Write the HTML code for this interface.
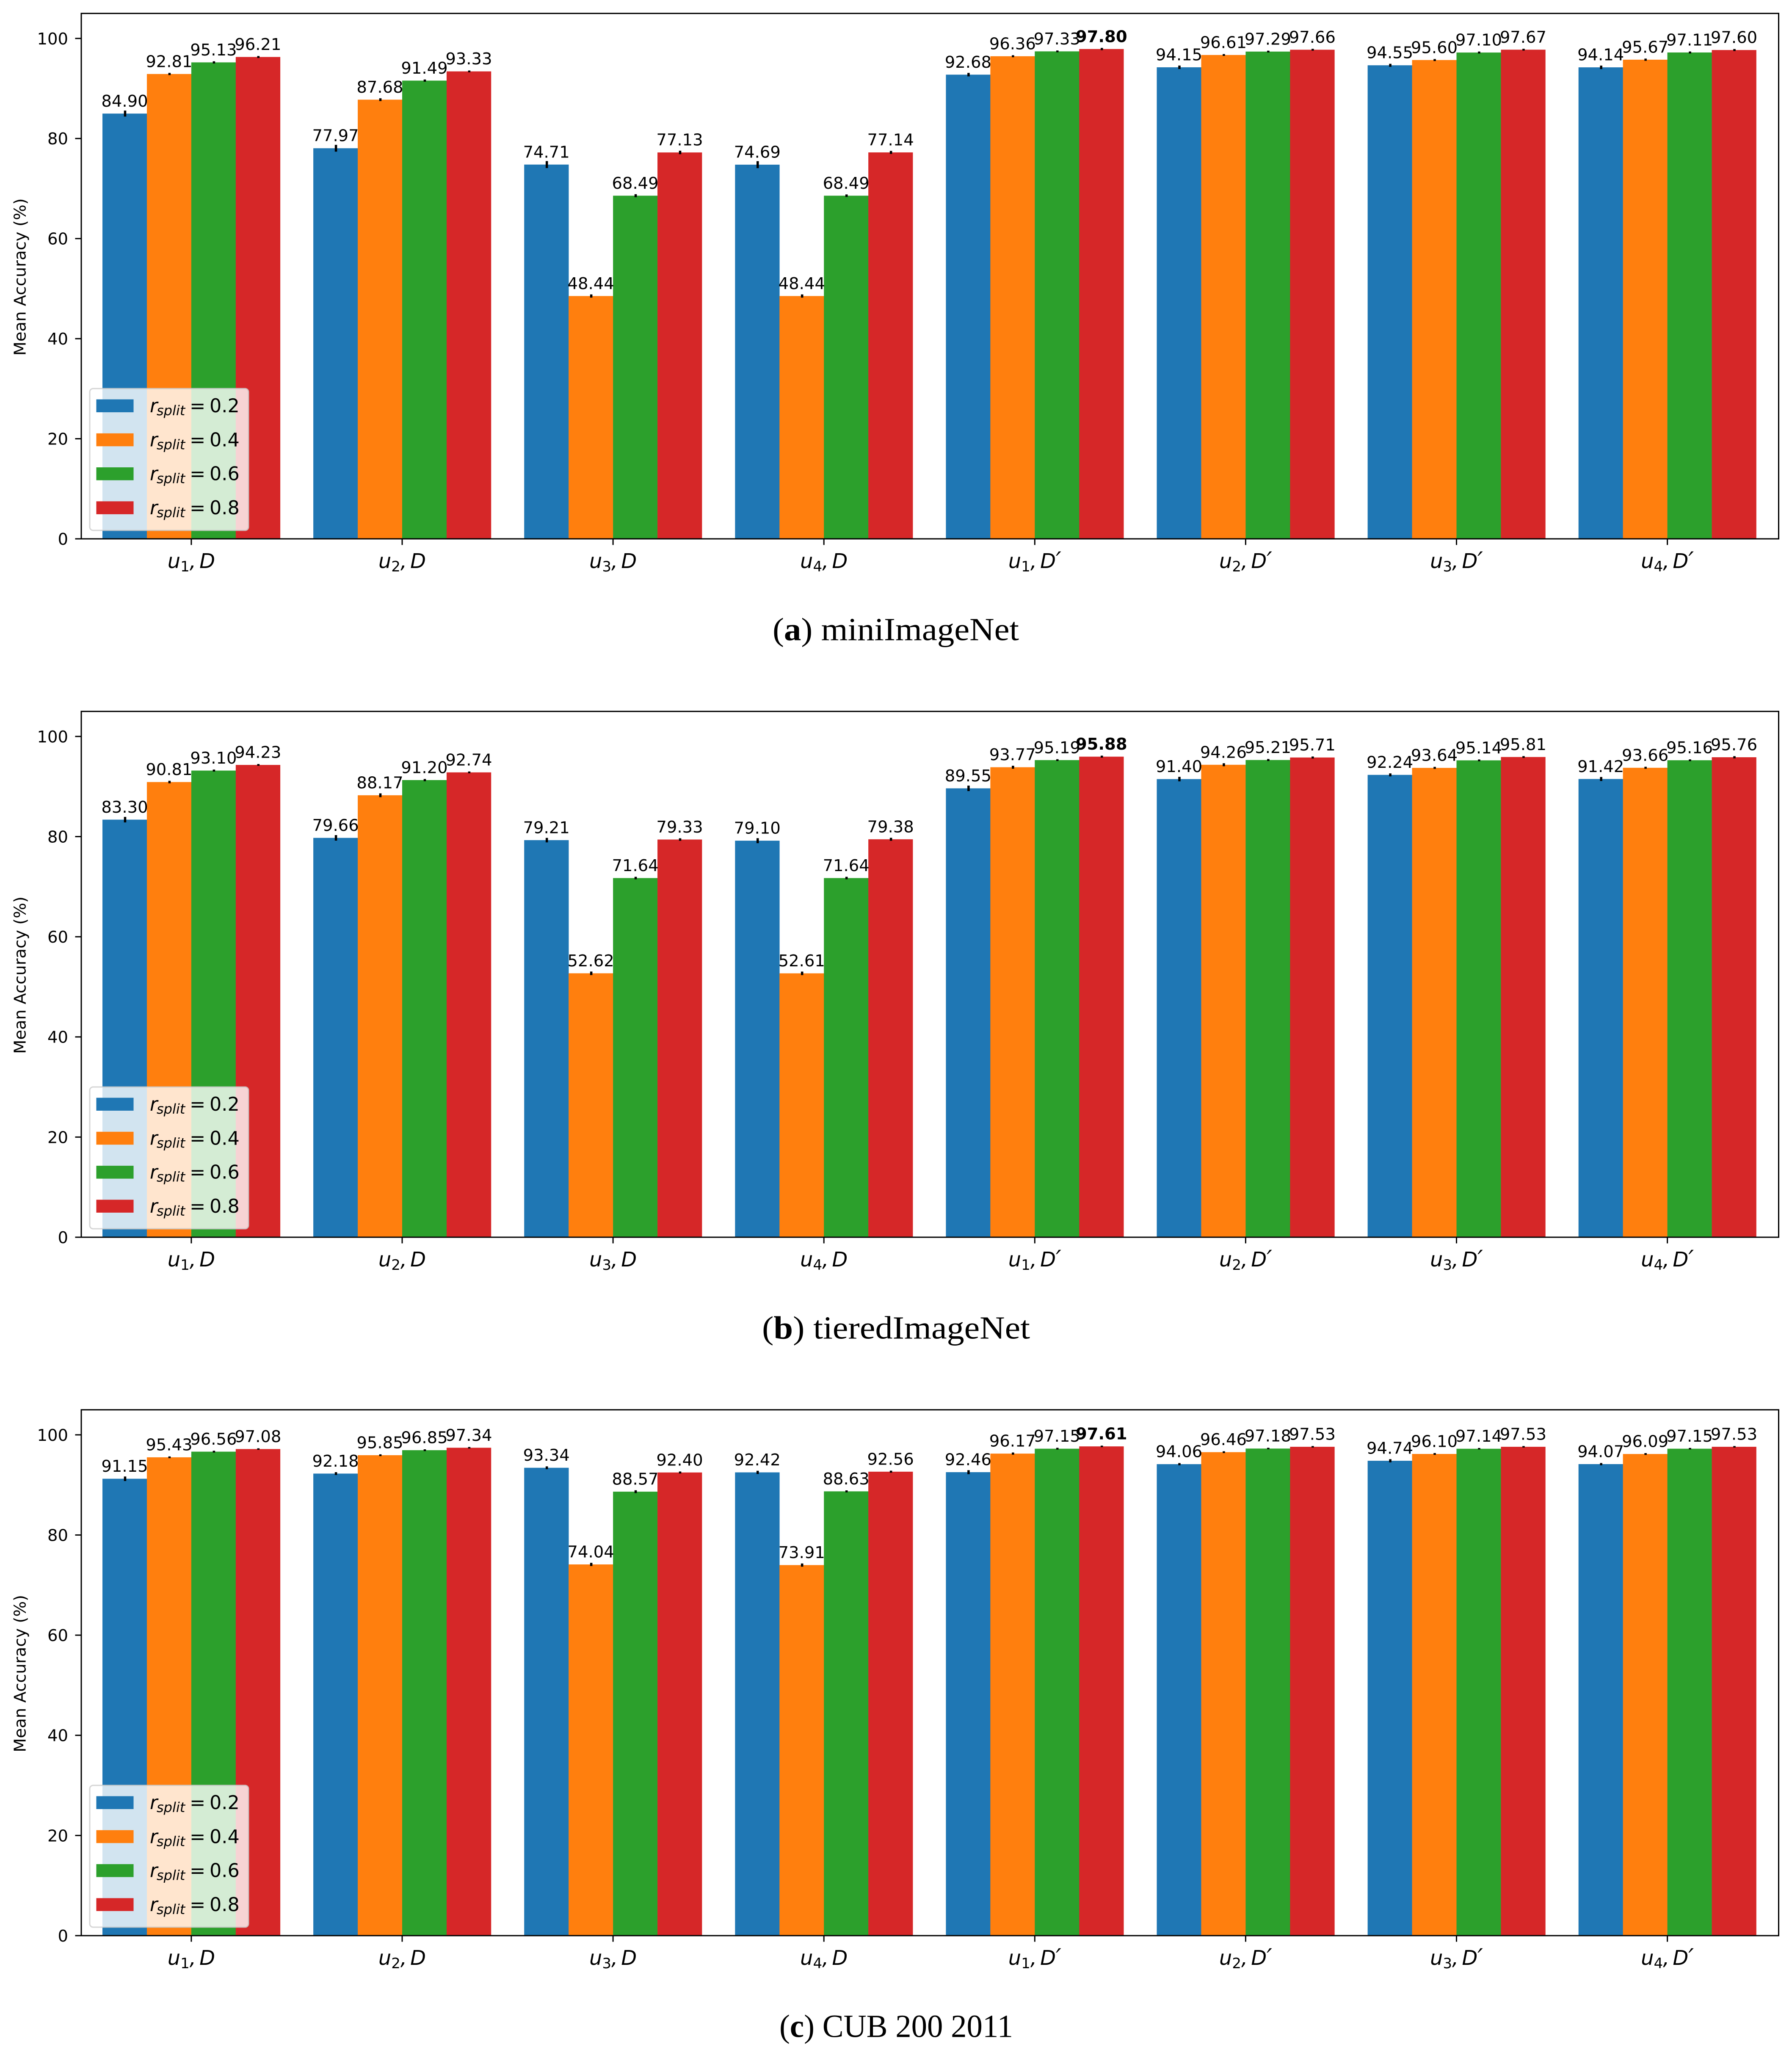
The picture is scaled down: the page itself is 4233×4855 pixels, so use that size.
<!DOCTYPE html>
<html lang="en">
<head>
<meta charset="utf-8">
<title>Mean accuracy by split ratio</title>
<style>
html,body{margin:0;padding:0;background:#fff;}
svg{display:block;}
text{font-family:"DejaVu Sans","Liberation Sans",sans-serif;fill:#000;}
.caption{font-family:"Liberation Serif",serif;font-size:76px;}
</style>
</head>
<body>
<svg id="figure" xmlns="http://www.w3.org/2000/svg" width="4233" height="4855" viewBox="0 0 4233 4855"></svg>
<script>
// ---- data ----
const categoryUsers = ['1','2','3','4','1','2','3','4'];
const categoryPrimes = [false,false,false,false,true,true,true,true];
const splitLabels = ['0.2','0.4','0.6','0.8'];
const seriesColors = ['#1f77b4','#ff7f0e','#2ca02c','#d62728'];
const yTicks = [0,20,40,60,80,100];

const miniSplit2 = [84.90,77.97,74.71,74.69,92.68,94.15,94.55,94.14];
const miniSplit4 = [92.81,87.68,48.44,48.44,96.36,96.61,95.60,95.67];
const miniSplit6 = [95.13,91.49,68.49,68.49,97.33,97.29,97.10,97.11];
const miniSplit8 = [96.21,93.33,77.13,77.14,97.80,97.66,97.67,97.60];
const miniErr2 = [0.60,0.68,0.70,0.70,0.35,0.35,0.30,0.35];
const miniErr4 = [0.22,0.28,0.32,0.32,0.20,0.18,0.20,0.22];
const miniErr6 = [0.22,0.22,0.30,0.25,0.18,0.18,0.20,0.20];
const miniErr8 = [0.20,0.18,0.35,0.30,0.22,0.18,0.18,0.20];

const tieredSplit2 = [83.30,79.66,79.21,79.10,89.55,91.40,92.24,91.42];
const tieredSplit4 = [90.81,88.17,52.62,52.61,93.77,94.26,93.64,93.66];
const tieredSplit6 = [93.10,91.20,71.64,71.64,95.19,95.21,95.14,95.16];
const tieredSplit8 = [94.23,92.74,79.33,79.38,95.88,95.71,95.81,95.76];
const tieredErr2 = [0.55,0.55,0.45,0.50,0.55,0.45,0.30,0.40];
const tieredErr4 = [0.25,0.38,0.35,0.35,0.30,0.30,0.20,0.20];
const tieredErr6 = [0.20,0.22,0.25,0.25,0.18,0.20,0.18,0.18];
const tieredErr8 = [0.18,0.18,0.25,0.30,0.20,0.20,0.18,0.22];

const cubSplit2 = [91.15,92.18,93.34,92.42,92.46,94.06,94.74,94.07];
const cubSplit4 = [95.43,95.85,74.04,73.91,96.17,96.46,96.10,96.09];
const cubSplit6 = [96.56,96.85,88.57,88.63,97.15,97.18,97.14,97.15];
const cubSplit8 = [97.08,97.34,92.40,92.56,97.61,97.53,97.53,97.53];
const cubErr2 = [0.45,0.28,0.28,0.32,0.40,0.22,0.32,0.22];
const cubErr4 = [0.18,0.18,0.32,0.32,0.22,0.18,0.18,0.18];
const cubErr6 = [0.18,0.18,0.28,0.20,0.18,0.15,0.15,0.15];
const cubErr8 = [0.15,0.15,0.20,0.20,0.15,0.15,0.15,0.15];

const yMax = 105;

// ---- layout ----
const NS = 'http://www.w3.org/2000/svg';
const root = document.getElementById('figure');
const AX_LEFT = 192, AX_RIGHT = 4201.5;
const GROUP0 = 242, GROUP_STEP = 498.1, BAR_W = 104.95;
const FS = 38.5;

const panels = [
  {key:'mini', top:31.7, bottom:1273, series:[miniSplit2,miniSplit4,miniSplit6,miniSplit8], errs:[miniErr2,miniErr4,miniErr6,miniErr8],
   letter:'a', title:'miniImageNet', capX:1825, capW:582, capY:1512.7},
  {key:'tiered', top:1680.7, bottom:2923, series:[tieredSplit2,tieredSplit4,tieredSplit6,tieredSplit8], errs:[tieredErr2,tieredErr4,tieredErr6,tieredErr8],
   letter:'b', title:'tieredImageNet', capX:1800, capW:633, capY:3162.7},
  {key:'cub', top:3330.7, bottom:4573, series:[cubSplit2,cubSplit4,cubSplit6,cubSplit8], errs:[cubErr2,cubErr4,cubErr6,cubErr8],
   letter:'c', title:'CUB 200 2011', capX:1841, capW:552, capY:4812.7}
];

function make(tag, attrs, parent, txt){
  const el = document.createElementNS(NS, tag);
  for (const k in attrs) el.setAttribute(k, attrs[k]);
  if (txt !== undefined) el.textContent = txt;
  if (parent) parent.appendChild(el);
  return el;
}

panels.forEach(function(p){
  const y = function(v){ return p.bottom - (v / yMax) * (p.bottom - p.top); };
  const groupX = function(g){ return GROUP0 + g * GROUP_STEP; };
  const barX = function(g, s){ return groupX(g) + s * BAR_W; };

  const gp = make('g', {}, root);
  
  

  // bars
  p.series.forEach(function(vals, s){
    vals.forEach(function(v, g){
      const bar = make('rect', {x:barX(g,s), y:y(v) - 1, width:BAR_W + 0.3, height:y(0) - y(v) + 1, fill:seriesColors[s]}, gp);
      
      
    });
  });

  // error bars
  p.series.forEach(function(vals, s){
    vals.forEach(function(v, g){
      const e = p.errs[s][g];
      const cx = barX(g,s) + BAR_W / 2 + 1;
      const eb = make('line', {x1:cx, x2:cx, y1:y(v + e) - 1, y2:y(v - e) - 1, stroke:'#000', 'stroke-width':5.5}, gp);
      
      
    });
  });

  // value labels; the highest value in a panel is bold
  let best = -1;
  p.series.forEach(function(vals){ vals.forEach(function(v){ if (v > best) best = v; }); });
  p.series.forEach(function(vals, s){
    vals.forEach(function(v, g){
      const lab = make('text', {x:barX(g,s) + BAR_W / 2, y:y(v) - 17.5, 'text-anchor':'middle', 'font-size':FS,
        'font-weight': v === best ? 'bold' : 'normal'}, gp, v.toFixed(2));
      
      
    });
  });

  // y axis ticks and labels
  yTicks.forEach(function(t){
    const tick = make('line', {x1:AX_LEFT - 14.5, x2:AX_LEFT, y1:y(t), y2:y(t), stroke:'#000', 'stroke-width':3}, gp);
    
    
    const tl = make('text', {x:161, y:y(t) + 14, 'text-anchor':'end', 'font-size':FS}, gp, String(t));
    
    
  });

  const yTitle = make('text', {x:0, y:0, 'text-anchor':'middle', 'font-size':FS,
    transform:'translate(60.5 ' + ((p.top + p.bottom) / 2 + 2) + ') rotate(-90)'}, gp, 'Mean Accuracy (%)');
  
  

  // x axis ticks and labels
  categoryUsers.forEach(function(u, g){
    const cx = groupX(g) + 2 * BAR_W;
    const tick = make('line', {x1:cx, x2:cx, y1:p.bottom, y2:p.bottom + 14.5, stroke:'#000', 'stroke-width':3}, gp);
    
    
    const tl = make('text', {x:cx, y:p.bottom + 69, 'text-anchor':'middle', 'font-size':48, 'font-style':'italic'}, gp);
    
    
    make('tspan', {}, tl, 'u');
    make('tspan', {dy:8, 'font-size':34, 'font-style':'normal'}, tl, u);
    make('tspan', {dy:-8}, tl, ',');
    make('tspan', {dx:8}, tl, 'D');
    if (categoryPrimes[g]) {
      make('tspan', {'font-size':56, dy:2}, tl, '\u2032');
    }
  });

  // frame
  const frame = make('rect', {x:AX_LEFT, y:p.top, width:AX_RIGHT - AX_LEFT, height:p.bottom - p.top, fill:'none', stroke:'#000', 'stroke-width':3}, gp);
  
  

  // legend
  const lg = make('g', {}, gp);
  
  
  const box = make('rect', {x:212, y:p.bottom - 355, width:375, height:335, rx:8, ry:8,
    fill:'rgba(255,255,255,0.8)', stroke:'rgba(204,204,204,0.8)', 'stroke-width':3}, lg);
  
  
  splitLabels.forEach(function(lbl, i){
    const base = p.bottom - 299 + i * 80.3;
    const sw = make('rect', {x:227.5, y:base - 30.5, width:88, height:30.5, fill:seriesColors[i]}, lg);
    
    
    const t = make('text', {x:354, y:base, 'font-size':44.5}, lg);
    
    
    make('tspan', {'font-style':'italic'}, t, 'r');
    make('tspan', {x:370, dy:7, 'font-size':32, 'font-style':'italic'}, t, 'split');
    make('tspan', {x:448, dy:-7}, t, '=');
    make('tspan', {x:495}, t, lbl);
  });

  // caption
  const cap = make('text', {x:p.capX, y:p.capY, 'class':'caption', textLength:p.capW, lengthAdjust:'spacingAndGlyphs'}, gp);
  
  
  make('tspan', {}, cap, '(');
  make('tspan', {'font-weight':'bold'}, cap, p.letter);
  make('tspan', {}, cap, ') ' + p.title);
});
</script>
</body>
</html>
